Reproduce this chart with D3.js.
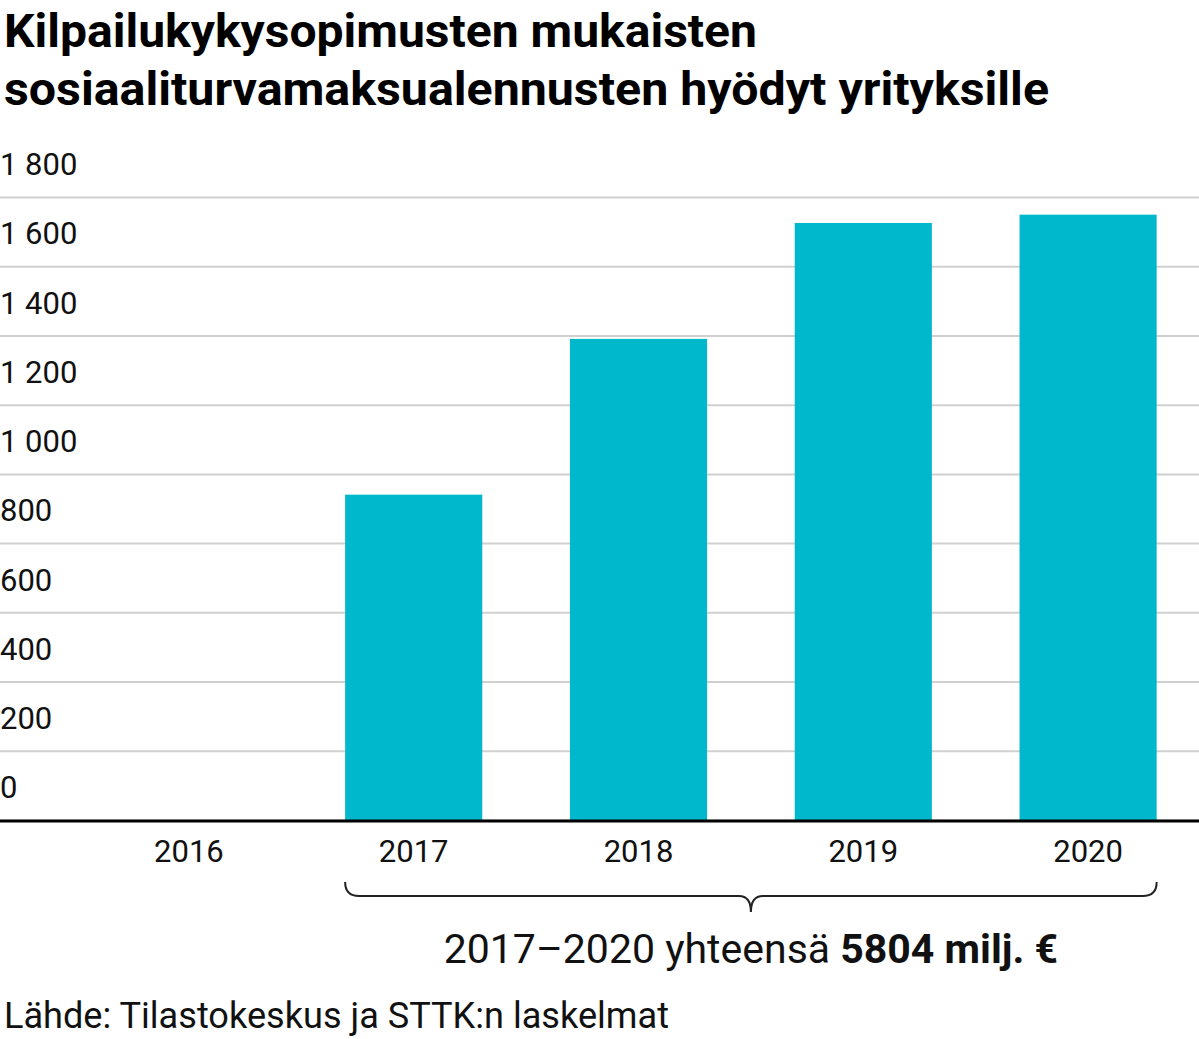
<!DOCTYPE html>
<html><head><meta charset="utf-8">
<script src="https://cdn.jsdelivr.net/npm/d3@7"></script>
<style>body{margin:0;background:#fff}text{font-family:Roboto,"Noto Sans",sans-serif}</style>
</head><body><svg id="c" width="1199" height="1039"></svg>
<script>
const years=["2016","2017","2018","2019","2020"];
const values=[0,940,1390,1725,1749];
const yTicks=[0,200,400,600,800,1000,1200,1400,1600,1800];
const title=["Kilpailukykysopimusten mukaisten","sosiaaliturvamaksualennusten hyödyt yrityksille"];
const source="Lähde: Tilastokeskus ja STTK:n laskelmat";

const svg=d3.select("#c");
const loc=d3.formatLocale({thousands:"\u00a0",grouping:[3],decimal:",",currency:["","€"]});
const fmt=loc.format(",");
const y=d3.scaleLinear().domain([0,1800]).range([820,197]);
const x=d3.scaleBand().domain(years).range([76.5,1200.5]).paddingInner(0.39).paddingOuter(0.195);

svg.append("text").attr("x",4).attr("y",47).attr("font-size",46).attr("font-weight",700)
 .attr("textLength",753).attr("lengthAdjust","spacingAndGlyphs").text(title[0]);
svg.append("text").attr("x",4).attr("y",105).attr("font-size",46).attr("font-weight",700)
 .attr("textLength",1045).attr("lengthAdjust","spacingAndGlyphs").text(title[1]);

const ax=svg.append("g").call(d3.axisRight(y).tickValues(yTicks).tickSize(1199).tickFormat(fmt));
ax.select(".domain").remove();
ax.selectAll(".tick line").attr("stroke","#d0d0d0").attr("stroke-width",2);
ax.selectAll(".tick text").attr("x",0).attr("dy","-0.72em").attr("text-anchor","start")
 .attr("font-size",31).attr("fill","#111");

svg.append("g").selectAll("rect").data(values).join("rect")
 .attr("x",(d,i)=>x(years[i])).attr("width",x.bandwidth())
 .attr("y",d=>y(d)).attr("height",d=>y(0)-y(d)).attr("fill","#00b8cc");

svg.append("line").attr("x1",0).attr("x2",1199).attr("y1",y(0)+1).attr("y2",y(0)+1)
 .attr("stroke","#000").attr("stroke-width",3);

svg.append("g").selectAll("text").data(years).join("text")
 .attr("x",d=>x(d)+x.bandwidth()/2).attr("y",862).attr("text-anchor","middle")
 .attr("font-size",31).attr("fill","#111").text(d=>d);

const L=x("2017"),R=x("2020")+x.bandwidth(),M=(L+R)/2,t=882,b=896;
svg.append("path").attr("fill","none").attr("stroke","#222").attr("stroke-width",2)
 .attr("d",`M${L},${t} Q${L},${b} ${L+14},${b} L${M-12},${b} Q${M},${b} ${M},${b+16} Q${M},${b} ${M+12},${b} L${R-14},${b} Q${R},${b} ${R},${t}`);

const tt=svg.append("text").attr("x",M).attr("y",963).attr("text-anchor","middle").attr("font-size",41).attr("fill","#111");
tt.append("tspan").text("2017–2020 yhteensä ");
tt.append("tspan").attr("font-weight",700).text("5804 milj. €");

svg.append("text").attr("x",4).attr("y",1028).attr("font-size",37).attr("fill","#111")
 .attr("textLength",665).attr("lengthAdjust","spacingAndGlyphs").text(source);
</script></body></html>
